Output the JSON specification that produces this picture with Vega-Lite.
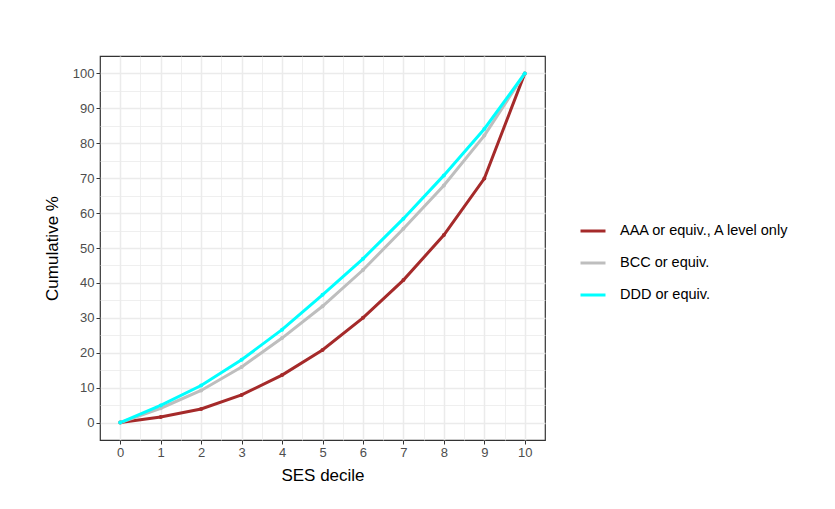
{
  "$schema": "https://vega.github.io/schema/vega-lite/v6.json",
  "width": 445,
  "height": 384,
  "autosize": "none",
  "padding": {"left": 100, "top": 56, "right": 290, "bottom": 69},
  "background": "white",
  "data": {
    "values": [
      {"decile": 0, "group": "AAA or equiv., A level only", "cum": 0},
      {"decile": 1, "group": "AAA or equiv., A level only", "cum": 1.6},
      {"decile": 2, "group": "AAA or equiv., A level only", "cum": 3.9},
      {"decile": 3, "group": "AAA or equiv., A level only", "cum": 7.9},
      {"decile": 4, "group": "AAA or equiv., A level only", "cum": 13.6},
      {"decile": 5, "group": "AAA or equiv., A level only", "cum": 20.8},
      {"decile": 6, "group": "AAA or equiv., A level only", "cum": 30},
      {"decile": 7, "group": "AAA or equiv., A level only", "cum": 40.8},
      {"decile": 8, "group": "AAA or equiv., A level only", "cum": 53.7},
      {"decile": 9, "group": "AAA or equiv., A level only", "cum": 69.9},
      {"decile": 10, "group": "AAA or equiv., A level only", "cum": 100},
      {"decile": 0, "group": "BCC or equiv.", "cum": 0},
      {"decile": 1, "group": "BCC or equiv.", "cum": 4.1},
      {"decile": 2, "group": "BCC or equiv.", "cum": 9.2},
      {"decile": 3, "group": "BCC or equiv.", "cum": 15.9},
      {"decile": 4, "group": "BCC or equiv.", "cum": 24.2},
      {"decile": 5, "group": "BCC or equiv.", "cum": 33.3},
      {"decile": 6, "group": "BCC or equiv.", "cum": 43.7},
      {"decile": 7, "group": "BCC or equiv.", "cum": 55.5},
      {"decile": 8, "group": "BCC or equiv.", "cum": 67.9},
      {"decile": 9, "group": "BCC or equiv.", "cum": 82.2},
      {"decile": 10, "group": "BCC or equiv.", "cum": 100},
      {"decile": 0, "group": "DDD or equiv.", "cum": 0},
      {"decile": 1, "group": "DDD or equiv.", "cum": 4.9},
      {"decile": 2, "group": "DDD or equiv.", "cum": 10.6},
      {"decile": 3, "group": "DDD or equiv.", "cum": 18},
      {"decile": 4, "group": "DDD or equiv.", "cum": 26.6},
      {"decile": 5, "group": "DDD or equiv.", "cum": 36.6},
      {"decile": 6, "group": "DDD or equiv.", "cum": 46.9},
      {"decile": 7, "group": "DDD or equiv.", "cum": 58.4},
      {"decile": 8, "group": "DDD or equiv.", "cum": 70.8},
      {"decile": 9, "group": "DDD or equiv.", "cum": 84.1},
      {"decile": 10, "group": "DDD or equiv.", "cum": 100}
    ]
  },
  "mark": {
    "type": "line",
    "strokeWidth": 3,
    "point": {"size": 16, "filled": true}
  },
  "encoding": {
    "x": {
      "field": "decile",
      "type": "quantitative",
      "title": "SES decile",
      "scale": {"domain": [-0.5, 10.5], "nice": false, "zero": false},
      "axis": {
        "values": [0, 0.5, 1, 1.5, 2, 2.5, 3, 3.5, 4, 4.5, 5, 5.5, 6, 6.5, 7, 7.5, 8, 8.5, 9, 9.5, 10],
        "labelExpr": "datum.value % 1 === 0 ? format(datum.value, 'd') : ''",
        "tickOpacity": {"condition": {"test": "datum.value % 1 === 0", "value": 1}, "value": 0},
        "gridWidth": {"condition": {"test": "datum.value % 1 === 0", "value": 1.5}, "value": 0.8},
        "titlePadding": 8
      }
    },
    "y": {
      "field": "cum",
      "type": "quantitative",
      "title": "Cumulative %",
      "scale": {"domain": [-5, 105], "nice": false, "zero": false},
      "axis": {
        "values": [0, 5, 10, 15, 20, 25, 30, 35, 40, 45, 50, 55, 60, 65, 70, 75, 80, 85, 90, 95, 100],
        "labelExpr": "datum.value % 10 === 0 ? format(datum.value, 'd') : ''",
        "tickOpacity": {"condition": {"test": "datum.value % 10 === 0", "value": 1}, "value": 0},
        "gridWidth": {"condition": {"test": "datum.value % 10 === 0", "value": 1.5}, "value": 0.8},
        "titlePadding": 11
      }
    },
    "color": {
      "field": "group",
      "type": "nominal",
      "scale": {
        "domain": ["AAA or equiv., A level only", "BCC or equiv.", "DDD or equiv."],
        "range": ["#a52a2a", "#bebebe", "#00ffff"]
      },
      "legend": {
        "title": null,
        "orient": "none",
        "legendX": 479,
        "legendY": 161,
        "symbolType": "stroke",
        "symbolSize": 625,
        "symbolStrokeWidth": 3,
        "labelOffset": 13,
        "labelLimit": 300,
        "rowPadding": 11,
        "labelFontSize": 14.5,
        "labelColor": "#000000"
      }
    }
  },
  "config": {
    "font": "Liberation Sans",
    "view": {"stroke": "#333333", "strokeWidth": 1.2},
    "axis": {
      "domain": false,
      "gridColor": "#ebebeb",
      "tickColor": "#333333",
      "tickSize": 4,
      "labelColor": "#4d4d4d",
      "labelFontSize": 13,
      "labelPadding": 2,
      "titleFontSize": 17,
      "titleFontWeight": "normal",
      "titleColor": "#000000"
    },
    "legend": {"labelFont": "Liberation Sans"}
  }
}
